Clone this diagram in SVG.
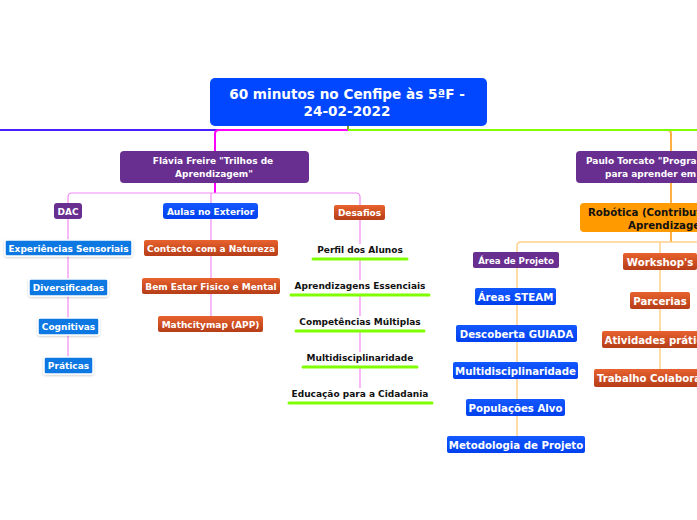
<svg xmlns="http://www.w3.org/2000/svg" width="697" height="520" viewBox="0 0 697 520">
<defs>
<linearGradient id="gOr" x1="0" y1="0" x2="0" y2="1"><stop offset="0" stop-color="#e8622e"/><stop offset="1" stop-color="#b53d18"/></linearGradient>
<linearGradient id="gBl" x1="0" y1="0" x2="0" y2="1"><stop offset="0" stop-color="#1458ff"/><stop offset="1" stop-color="#0040ee"/></linearGradient>
<filter id="sh" x="-10%" y="-20%" width="120%" height="150%"><feDropShadow dx="0" dy="1" stdDeviation="1" flood-color="#000" flood-opacity="0.2"/></filter>
</defs>
<style>
text{font-family:"DejaVu Sans","Verdana",sans-serif;font-weight:bold;text-anchor:middle}
.w{fill:#fff}
.k{fill:#111}
.purple{fill:#682e90}
.blue{fill:url(#gBl)}
.lblue{fill:#0c78e2;stroke:#fff;stroke-width:1.5;filter:url(#sh)}
.or{fill:url(#gOr)}
.ul{stroke:#80ff00;stroke-width:3;stroke-linecap:round}
.c{fill:none}
.s{text-anchor:start}
</style>
<rect width="697" height="520" fill="#fff"/>
<g id="connectors" class="c">
<path d="M0,130 H348" stroke="#4a1eff" stroke-width="2"/>
<path d="M348,130 H219 Q215,130 215,134 V151" stroke="#ff00ff" stroke-width="2"/>
<path d="M348,126 V130" stroke="#8a9a20" stroke-width="2"/>
<path d="M667,130 Q671,130 671,134 V151" stroke="#ffb040" stroke-width="2"/>
<path d="M348,130 H697" stroke="#80ff00" stroke-width="2"/>
<path d="M215,183 V193" stroke="#ff00ff" stroke-width="2"/>
<path d="M68,203 V197 Q68,193 72,193 H356 Q360,193 360,197 V205" stroke="#f38af3" stroke-width="1.2"/>
<path d="M211,193 V203" stroke="#f38af3" stroke-width="1.2"/>
<path d="M68,219 V357" stroke="#f38af3" stroke-width="1.2"/>
<path d="M211,219 V316" stroke="#f38af3" stroke-width="1.2"/>
<path d="M360,220 V244 M360,260 V280 M360,296 V316 M360,332 V352 M360,368 V388" stroke="#f38af3" stroke-width="1.2"/>
<path d="M671,183 V203" stroke="#ffb040" stroke-width="2"/>
<path d="M671,232 V242" stroke="#ffb040" stroke-width="2"/>
<path d="M517,252 V246 Q517,242 521,242 H697" stroke="#ffcf8a" stroke-width="1.5"/>
<path d="M660,242 V253 M660,270 V369" stroke="#ffcf8a" stroke-width="1.5"/>
<path d="M517,268 V436" stroke="#ffcf8a" stroke-width="1.5"/>
</g>
<g id="root">
<rect x="210" y="78" width="277" height="48" rx="5" fill="#0047ff"/>
<text class="w" x="347" y="99" font-size="13.6">60 minutos no Cenfipe às 5ªF -</text>
<text class="w" x="347" y="116" font-size="13.6">24-02-2022</text>
</g>
<g id="flavia">
<rect x="120" y="151" width="189" height="32" rx="4" class="purple"/>
<text class="w" x="213" y="164" font-size="9">Flávia Freire "Trilhos de</text>
<text class="w" x="214" y="177" font-size="9">Aprendizagem"</text>
</g>
<g id="dac">
<rect x="54" y="203" width="28" height="16" rx="3" class="purple"/>
<text class="w" x="68" y="214.5" font-size="9">DAC</text>
</g>
<g id="aulas">
<rect x="163" y="203" width="95" height="16" rx="3" class="blue"/>
<text class="w" x="210.5" y="214.5" font-size="9">Aulas no Exterior</text>
</g>
<g id="desafios">
<rect x="334" y="205" width="51" height="15" rx="2" class="or"/>
<text class="w" x="359.5" y="216" font-size="9">Desafios</text>
</g>
<g id="exp"><rect x="5" y="240" width="127" height="16" rx="2" class="lblue"/><text class="w" x="68.5" y="251.5" font-size="9">Experiências Sensoriais</text></g>
<g id="div"><rect x="29" y="279" width="79" height="17" rx="2" class="lblue"/><text class="w" x="68.5" y="291" font-size="9">Diversificadas</text></g>
<g id="cog"><rect x="38" y="318" width="61" height="17" rx="2" class="lblue"/><text class="w" x="68.5" y="330" font-size="9">Cognitivas</text></g>
<g id="pra"><rect x="44" y="357" width="49" height="17" rx="2" class="lblue"/><text class="w" x="68.5" y="369" font-size="9">Práticas</text></g>
<g id="contacto"><rect x="144" y="240" width="134" height="16" rx="2" class="or"/><text class="w" x="211" y="251.5" font-size="9">Contacto com a Natureza</text></g>
<g id="bemestar"><rect x="142" y="278" width="138" height="16" rx="2" class="or"/><text class="w" x="211" y="289.5" font-size="9">Bem Estar Fisico e Mental</text></g>
<g id="mathcity"><rect x="158" y="316" width="105" height="16" rx="2" class="or"/><text class="w" x="210.5" y="327.5" font-size="9">Mathcitymap (APP)</text></g>
<g id="perfil"><text class="k" x="360" y="253" font-size="9">Perfil dos Alunos</text><line class="ul" x1="313" y1="259" x2="407" y2="259"/></g>
<g id="aprend"><text class="k" x="360" y="289" font-size="9">Aprendizagens Essenciais</text><line class="ul" x1="291" y1="295" x2="429" y2="295"/></g>
<g id="compet"><text class="k" x="360" y="325" font-size="9">Competências Múltiplas</text><line class="ul" x1="296" y1="331" x2="424" y2="331"/></g>
<g id="multi1"><text class="k" x="360" y="361" font-size="9">Multidisciplinaridade</text><line class="ul" x1="303" y1="367" x2="417" y2="367"/></g>
<g id="educ"><text class="k" x="360" y="397" font-size="9">Educação para a Cidadania</text><line class="ul" x1="289" y1="403" x2="432" y2="403"/></g>
<g id="paulo">
<rect x="576" y="151" width="190" height="32" rx="4" class="purple"/>
<text class="w s" x="586" y="164" font-size="9">Paulo Torcato "Progra</text>
<text class="w s" x="605" y="177" font-size="9">para aprender em</text>
</g>
<g id="robotica">
<rect x="580" y="203" width="182" height="29" rx="4" fill="#ff9a00"/>
<text class="k s" x="588" y="216" font-size="10.2">Robótica (Contribut</text>
<text class="k s" x="628" y="228.5" font-size="10.2">Aprendizage</text>
</g>
<g id="areaproj"><rect x="473" y="252" width="86" height="16" rx="2" class="purple"/><text class="w" x="516" y="263.5" font-size="8.6">Área de Projeto</text></g>
<g id="steam"><rect x="475" y="288" width="81" height="17" rx="2" class="blue"/><text class="w" x="515.5" y="300.5" font-size="10.2">Áreas STEAM</text></g>
<g id="guiada"><rect x="456" y="325" width="121" height="17" rx="2" class="blue"/><text class="w" x="516.5" y="337.5" font-size="10.2">Descoberta GUIADA</text></g>
<g id="multi2"><rect x="453" y="362" width="125" height="17" rx="2" class="blue"/><text class="w" x="515.5" y="374.5" font-size="10.2">Multidisciplinaridade</text></g>
<g id="popul"><rect x="466" y="399" width="99" height="17" rx="2" class="blue"/><text class="w" x="515.5" y="411.5" font-size="10.2">Populações Alvo</text></g>
<g id="metod"><rect x="447" y="436" width="138" height="17" rx="2" class="blue"/><text class="w" x="516" y="448.5" font-size="10.2">Metodologia de Projeto</text></g>
<g id="workshop"><rect x="623" y="253" width="74" height="17" rx="2" class="or"/><text class="w" x="660" y="265.5" font-size="10.2">Workshop's</text></g>
<g id="parcerias"><rect x="630" y="292" width="60" height="17" rx="2" class="or"/><text class="w" x="660" y="304.5" font-size="10.2">Parcerias</text></g>
<g id="atividades"><rect x="602" y="331" width="116" height="17" rx="2" class="or"/><text class="w" x="660" y="343.5" font-size="10.2">Atividades práticas</text></g>
<g id="trabalho"><rect x="594" y="369" width="132" height="18" rx="2" class="or"/><text class="w" x="660" y="382" font-size="10.2">Trabalho Colaborativo</text></g>
</svg>
